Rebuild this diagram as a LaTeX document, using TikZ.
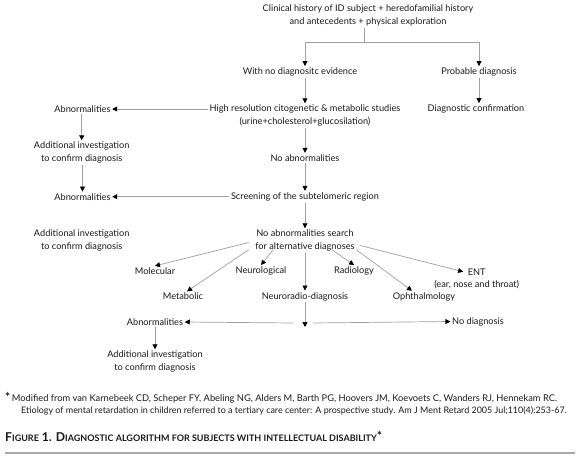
\documentclass[tikz,border=0pt]{standalone}
\usepackage{fontspec}
\setmainfont{Lato}
\usetikzlibrary{arrows.meta}
\definecolor{lineGray}{RGB}{160,160,160}
\definecolor{inkBlack}{RGB}{25,25,25}
\definecolor{ruleGray}{RGB}{170,170,170}
\newcommand{\smallcap}[2]{#1{\fontsize{9}{10}\selectfont #2}}

\begin{document}
\begin{tikzpicture}[
  x=1pt, y=-1pt,
  lbl/.style={
    inner sep=1.5pt, align=center, text=inkBlack,
    font=\fontsize{9.2}{12.6}\selectfont
  },
  note/.style={
    anchor=base west, inner sep=0pt, text=inkBlack,
    font=\fontsize{9.3}{11}\selectfont
  },
  arr/.style={-{Triangle[length=5pt,width=5pt,color=black]},
    draw=lineGray, line width=0.7pt},
  link/.style={draw=lineGray, line width=0.7pt}
]
  \useasboundingbox (0,0) rectangle (580,463);

  % Main column
  \node[lbl] (top) at (368,15.5)
    {Clinical history of ID subject + heredofamilial history\\
     and antecedents + physical exploration};
  \node[lbl] (nodiag) at (300,72)
    {With no diagnositc evidence};
  \node[lbl] (probable) at (479,72)
    {Probable diagnosis};
  \node[lbl] (hires) at (305,115.5)
    {High resolution citogenetic \& metabolic studies\\
     (urine+cholesterol+glucosilation)};
  \node[lbl] (confirm) at (476,109)
    {Diagnostic confirmation};
  \node[lbl] (noabn) at (305,158)
    {No abnormalities};
  \node[lbl] (screen) at (305,196.7)
    {Screening of the subtelomeric region};
  \node[lbl] (search) at (305,240.5)
    {No abnormalities search\\ for alternative diagnoses};

  % Left column
  \node[lbl] (abn1) at (82.5,109) {Abnormalities};
  \node[lbl] (add1) at (81.7,152.5)
    {Additional investigation\\ to confirm diagnosis};
  \node[lbl] (abn2) at (82.5,196.7) {Abnormalities};
  \node[lbl] (add2) at (81.7,240.5)
    {Additional investigation\\ to confirm diagnosis};

  % Alternative diagnoses
  \node[lbl] (molecular) at (155,271) {Molecular};
  \node[lbl] (neuro) at (261,271) {Neurological};
  \node[lbl] (radio) at (354,271) {Radiology};
  \node[lbl] (ent) at (476.7,271.7) {ENT};
  \node[lbl] (entsub) at (476.7,284.3) {(ear, nose and throat)};
  \node[lbl] (metabolic) at (183,296.5) {Metabolic};
  \node[lbl] (neurorad) at (305,296.5) {Neuroradio-diagnosis};
  \node[lbl] (ophthal) at (424,296.7) {Ophthalmology};

  % Outcome
  \node[lbl] (abn3) at (155,322) {Abnormalities};
  \node[lbl] (nodx) at (478,321.5) {No diagnosis};
  \node[lbl] (add3) at (155,361.5)
    {Additional investigation\\ to confirm diagnosis};

  \coordinate (fork) at (364,42);
  \coordinate (split) at (305,327);
  \coordinate (splitL) at (293,323);
  \coordinate (splitR) at (313,323);

  \draw[link] (top.south -| fork) -- (fork);
  \draw[arr] (fork) -| ([xshift=5pt]nodiag.north);
  \draw[arr] (fork) -| (probable.north);
  \draw[arr] (probable.south) -- (probable.south |- confirm.north);

  \foreach \a/\b in {nodiag/hires, hires/noabn, noabn/screen, screen/search,
                     abn1/add1, add1/abn2, search/neurorad, abn3/add3}
    \draw[arr] (\b.north |- \a.south) -- (\b.north);

  \draw[arr] (hires.west |- abn1) -- (abn1.east);
  \draw[arr] (screen.west) -- (abn2.east);

  % Search fan
  \draw[arr] ([xshift=-5pt,yshift=-2pt]search.west) -- (molecular.north);
  \draw[arr] ([xshift=-5pt,yshift=3pt]search.south west) -- ([xshift=4pt]metabolic.north);
  \draw[arr] ([xshift=-32pt,yshift=3pt]search.south) -- (neuro.north);
  \draw[arr] ([xshift=27pt,yshift=3pt]search.south) -- (radio.north);
  \draw[arr] ([yshift=3pt]search.south east) -- ([xshift=-12pt]ophthal.north);
  \draw[arr] ([xshift=4pt,yshift=-5pt]search.east) -- ([xshift=-3pt]ent.west);

  % Split
  \draw[arr] (neurorad.south) -- (split);
  \draw[arr] (splitL) -- (abn3.east);
  \draw[arr] (splitR) -- (nodx.west);

  % Notes
  \node[note] (foot1) at (5,401)
    {{\fontsize{12}{12}\selectfont\bfseries *}\,Modified from van Karnebeek CD,
     Scheper FY, Abeling NG, Alders M, Barth PG, Hoovers JM, Koevoets C,
     Wanders RJ, Hennekam RC.};
  \node[note, font=\fontsize{8.95}{11}\selectfont] (foot2) at (21,413)
    {Etiology of mental retardation in children referred to a tertiary care
     center: A prospective study. Am J Ment Retard 2005 Jul;110(4):253-67.};
  \node[note, font=\fontsize{12.2}{13}\selectfont\bfseries] (caption) at (5,441)
    {\smallcap{F}{IGURE} 1. \smallcap{D}{IAGNOSTIC ALGORITHM FOR SUBJECTS
     WITH INTELLECTUAL DISABILITY}\raisebox{1pt}{*}};
  \draw[ruleGray, line width=1.2pt] (5,453) -- (575,453);
\end{tikzpicture}
\end{document}
